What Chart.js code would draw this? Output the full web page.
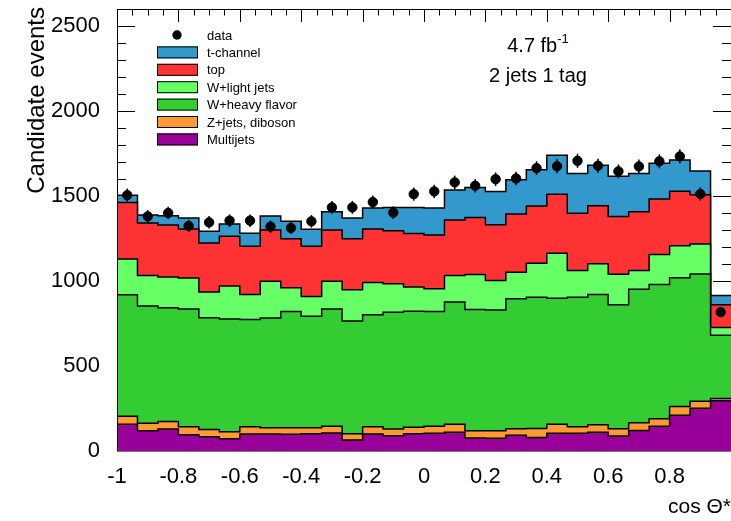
<!DOCTYPE html>
<html lang="en">
<head>
<meta charset="UTF-8">
<title>cos theta* - 2 jets 1 tag</title>
<script src="https://cdn.jsdelivr.net/npm/chart.js@4"></script>
<style>
  html, body { margin: 0; padding: 0; background: #fff; }
  #wrap { width: 731px; height: 521px; position: relative; }
</style>
</head>
<body>
<div id="wrap"><canvas id="chart"></canvas></div>
<script>
const nBins = 30;
const xMin = -1, xMax = 1;
const yMax = 2600;
const xTickLabels = [-1, -0.8, -0.6, -0.4, -0.2, 0, 0.2, 0.4, 0.6, 0.8, 1];
const yTickLabels = [0, 500, 1000, 1500, 2000, 2500];

// events per bin, bottom of the stack first
const multijets = [157, 119, 129, 96, 84, 72, 100, 100, 98, 102, 106, 65, 100, 90, 102,
                   104, 111, 76, 75, 92, 80, 104, 104, 110, 88, 121, 145, 211, 252, 295];
const zjets     = [48, 44, 45, 47, 43, 41, 43, 37, 39, 35, 39, 37, 43, 39, 37,
                   41, 46, 43, 44, 39, 53, 53, 39, 44, 43, 45, 45, 51, 41, 14];
const wheavy    = [714, 690, 669, 692, 657, 663, 630, 645, 684, 655, 690, 663, 659, 687, 683,
                   676, 719, 714, 710, 765, 772, 742, 762, 767, 730, 785, 790, 757, 748, 372];
const wlight    = [211, 180, 180, 182, 151, 194, 148, 217, 139, 117, 164, 184, 189, 168, 142,
                   134, 157, 205, 174, 156, 200, 264, 157, 180, 178, 111, 176, 188, 176, 45];
const topQuark  = [332, 308, 307, 289, 289, 293, 283, 301, 288, 295, 301, 300, 315, 312, 316,
                   316, 326, 336, 328, 342, 336, 348, 336, 341, 340, 345, 327, 321, 291, 135];
const tchannel  = [43, 47, 54, 65, 68, 72, 77, 82, 103, 100, 108, 122, 123, 137, 153,
                   158, 176, 176, 196, 201, 213, 229, 234, 239, 237, 226, 209, 184, 139, 53];
const dataCounts = [1505, 1380, 1400, 1324, 1345, 1355, 1355, 1320, 1312, 1351, 1433, 1433, 1464, 1402, 1511,
                    1527, 1580, 1560, 1599, 1603, 1664, 1675, 1707, 1678, 1645, 1674, 1704, 1733, 1512, 817];

const seriesNames = ['Multijets', 'Z+jets, diboson', 'W+heavy flavor', 'W+light jets', 'top', 't-channel'];
const colors = ['#990099', '#ff9933', '#33cc33', '#66ff66', '#ff3333', '#3399cc'];

const font = 'Liberation Sans, Arial, Helvetica, sans-serif';
Chart.defaults.font.family = font;
Chart.defaults.color = '#000';

const binWidth = (xMax - xMin) / nBins;
const edges = Array.from({ length: nBins + 1 }, (_, i) => xMin + i * binWidth);
const centers = edges.slice(0, nBins).map(x => x + binWidth / 2);

// cumulative stack, drawn as step outlines filled down to the previous one
const components = [multijets, zjets, wheavy, wlight, topQuark, tchannel];
let running = new Array(nBins).fill(0);
const datasets = components.map((vals, k) => {
  running = running.map((r, i) => r + vals[i]);
  const sums = running.slice();
  return {
    label: seriesNames[k],
    data: edges.map((x, i) => ({ x: x, y: sums[Math.min(i, nBins - 1)] })),
    stepped: 'before',
    fill: k === 0 ? 'origin' : '-1',
    backgroundColor: colors[k],
    borderColor: '#000',
    borderWidth: 1.5,
    pointRadius: 0,
    order: 1
  };
});

datasets.push({
  label: 'data',
  data: centers.map((x, i) => ({ x: x, y: dataCounts[i] })),
  showLine: false,
  pointRadius: 4.7,
  pointBackgroundColor: '#000',
  pointBorderColor: '#000',
  order: 0
});

// inward ticks on all four sides, under the histograms
const frameTicks = {
  id: 'frameTicks',
  beforeDatasetsDraw(chart) {
    const { ctx, chartArea: a, scales } = chart;
    ctx.save();
    ctx.strokeStyle = '#000';
    ctx.lineWidth = 1;
    for (let k = 0; k <= 26; k++) {
      const y = Math.round(scales.y.getPixelForValue(k * 100)) + 0.5;
      const len = k % 5 === 0 ? 18 : 9;
      ctx.beginPath();
      ctx.moveTo(a.left, y); ctx.lineTo(a.left + len, y);
      ctx.moveTo(a.right, y); ctx.lineTo(a.right - len, y);
      ctx.stroke();
    }
    for (let k = 0; k <= 40; k++) {
      const x = Math.round(scales.x.getPixelForValue(-1 + k * 0.05)) + 0.5;
      const len = k % 4 === 0 ? 13 : 6.5;
      ctx.beginPath();
      ctx.moveTo(x, a.top); ctx.lineTo(x, a.top + len);
      ctx.moveTo(x, a.bottom); ctx.lineTo(x, a.bottom - len);
      ctx.stroke();
    }
    ctx.restore();
  },
  afterDatasetsDraw(chart) {
    const { ctx, chartArea: a, scales } = chart;
    ctx.save();
    // sqrt(N) error bars on the data points
    ctx.strokeStyle = '#000';
    ctx.lineWidth = 1.5;
    dataCounts.forEach((n, i) => {
      const x = scales.x.getPixelForValue(centers[i]);
      const e = Math.sqrt(n);
      ctx.beginPath();
      ctx.moveTo(x, scales.y.getPixelForValue(n + e));
      ctx.lineTo(x, scales.y.getPixelForValue(n - e));
      ctx.stroke();
    });
    // frame
    ctx.lineWidth = 1;
    ctx.beginPath();
    ctx.moveTo(a.left + 0.5, a.bottom);
    ctx.lineTo(a.left + 0.5, a.top + 0.5);
    ctx.lineTo(a.right, a.top + 0.5);
    ctx.stroke();
    ctx.strokeStyle = '#777';
    ctx.beginPath();
    ctx.moveTo(a.left, a.bottom + 0.5);
    ctx.lineTo(a.right, a.bottom + 0.5);
    ctx.stroke();
    ctx.restore();
  }
};

// axis titles, labels and legend box
const annotations = {
  id: 'annotations',
  afterDraw(chart) {
    const ctx = chart.ctx;
    ctx.save();
    ctx.fillStyle = '#000';

    ctx.save();
    ctx.translate(37, 7);
    ctx.rotate(-Math.PI / 2);
    ctx.font = '24px ' + font;
    ctx.textAlign = 'right';
    ctx.textBaseline = 'middle';
    ctx.fillText('Candidate events', 0, 0);
    ctx.restore();

    ctx.font = '21px ' + font;
    ctx.textAlign = 'right';
    ctx.textBaseline = 'alphabetic';
    ctx.fillText('cos \u0398*', 731, 513);

    // luminosity with superscript
    ctx.textAlign = 'left';
    ctx.font = '20px ' + font;
    const main = '4.7 fb';
    const wMain = ctx.measureText(main).width;
    ctx.font = '13px ' + font;
    const wSup = ctx.measureText('-1').width;
    const x0 = 538 - (wMain + wSup) / 2;
    ctx.font = '20px ' + font;
    ctx.fillText(main, x0, 52);
    ctx.font = '13px ' + font;
    ctx.fillText('-1', x0 + wMain, 43);

    ctx.font = '20px ' + font;
    ctx.textAlign = 'center';
    ctx.fillText('2 jets 1 tag', 538, 82);

    // legend
    ctx.textAlign = 'left';
    ctx.textBaseline = 'middle';
    ctx.font = '13px ' + font;
    const rowY = k => 35 + k * 17.4;
    ctx.beginPath();
    ctx.arc(177, rowY(0), 4.7, 0, Math.PI * 2);
    ctx.fill();
    ctx.fillText('data', 207, rowY(0) + 1);
    for (let k = 0; k < seriesNames.length; k++) {
      const idx = seriesNames.length - 1 - k;
      const y = rowY(k + 1);
      ctx.fillStyle = colors[idx];
      ctx.fillRect(157, y - 6, 41, 12);
      ctx.strokeStyle = '#000';
      ctx.lineWidth = 1;
      ctx.strokeRect(157.5, y - 5.5, 40, 11);
      ctx.fillStyle = '#000';
      ctx.fillText(seriesNames[idx], 207, y + 1);
    }
    ctx.restore();
  }
};

// keep the plot frame fixed: no extra room for edge tick labels
const noEdgePadding = s => {
  s.paddingTop = 0; s.paddingBottom = 0;
  s.paddingLeft = 0; s.paddingRight = 0;
};

new Chart(document.getElementById('chart'), {
  type: 'line',
  data: { datasets: datasets },
  options: {
    responsive: true,
    maintainAspectRatio: false,
    animation: false,
    events: [],
    layout: { autoPadding: false, padding: { top: 9, right: 0, left: 0, bottom: 0 } },
    plugins: {
      legend: { display: false },
      tooltip: { enabled: false }
    },
    scales: {
      x: {
        type: 'linear',
        min: xMin,
        max: xMax,
        grid: { display: false },
        border: { display: false },
        afterBuildTicks: s => { s.ticks = xTickLabels.map(v => ({ value: v })); },
        ticks: {
          autoSkip: false,
          maxRotation: 0,
          padding: 5,
          font: { size: 22 },
          callback: v => (v === 1 ? '' : String(v))
        },
        afterFit: s => { s.height = 70; noEdgePadding(s); }
      },
      y: {
        min: 0,
        max: yMax,
        grid: { display: false },
        border: { display: false },
        afterBuildTicks: s => { s.ticks = yTickLabels.map(v => ({ value: v })); },
        ticks: {
          autoSkip: false,
          padding: 9,
          font: { size: 22 },
          callback: v => String(v)
        },
        afterFit: s => { s.width = 117; noEdgePadding(s); }
      }
    }
  },
  plugins: [frameTicks, annotations]
});
</script>
</body>
</html>
